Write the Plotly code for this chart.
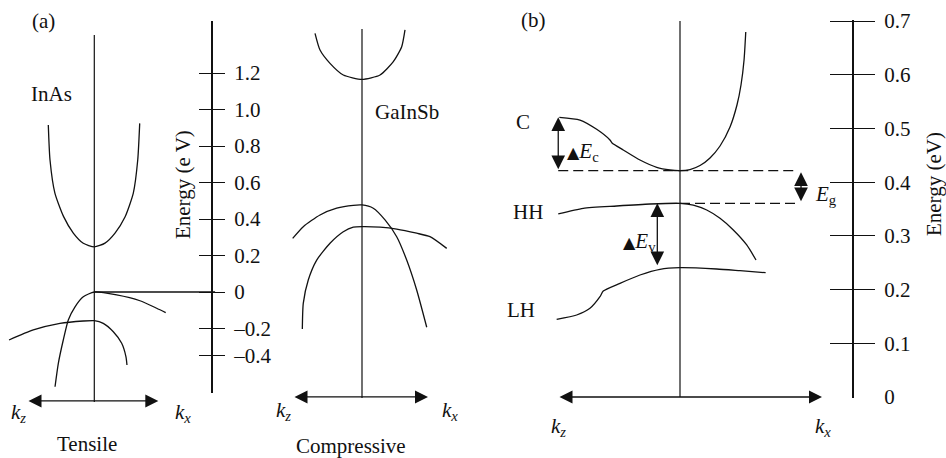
import plotly.graph_objects as go

W, H = 946, 458
FONT = '"Liberation Serif", "Times New Roman", Times, "DejaVu Serif", serif'
INK = "#111111"

# ---------------- Panel (a): InAs (tensile) ----------------
inas_cb_k = [-0.697, -0.671, -0.597, -0.465, -0.318, -0.167, 0.0, 0.162, 0.314, 0.465, 0.591, 0.658, 0.688]
inas_cb_E = [0.915, 0.723, 0.542, 0.413, 0.323, 0.267, 0.247, 0.268, 0.323, 0.411, 0.542, 0.723, 0.924]
inas_v1_k = [-0.595, -0.545, -0.470, -0.394, -0.292, -0.167, 0.0, 0.339, 0.692, 0.945, 1.082]
inas_v1_E = [-0.519, -0.391, -0.263, -0.153, -0.081, -0.026, 0.0, -0.016, -0.048, -0.089, -0.113]
inas_v2_k = [-1.292, -0.924, -0.520, -0.167, 0.0, 0.136, 0.288, 0.415, 0.480, 0.495]
inas_v2_E = [-0.263, -0.208, -0.172, -0.159, -0.157, -0.172, -0.218, -0.281, -0.355, -0.400]
inas_ref_k = [0.0, 1.83]          # valence-band-top reference line to the energy axis
inas_ref_E = [0.0, 0.0]
inas_kaxis_E = -0.597
inas_kaxis_k = [-1.02, 0.97]
inas_center_E = [-0.603, 1.408]

# ---------------- Panel (a): GaInSb (compressive) ----------------
gis_cb_k = [-0.696, -0.622, -0.474, -0.277, 0.0, 0.267, 0.464, 0.588, 0.637]
gis_cb_E = [1.4175, 1.326, 1.253, 1.189, 1.1655, 1.189, 1.262, 1.344, 1.436]
gis_v1_k = [-1.027, -0.870, -0.622, -0.375, -0.129, 0.0, 0.167, 0.341, 0.514, 0.662, 0.810, 0.959]
gis_v1_E = [0.294, 0.358, 0.422, 0.459, 0.475, 0.477, 0.459, 0.395, 0.303, 0.175, 0.011, -0.193]
gis_v2_k = [-0.884, -0.870, -0.796, -0.671, -0.474, -0.277, -0.129, 0.0, 0.267, 0.514, 0.810, 1.007, 1.255]
gis_v2_E = [-0.203, -0.062, 0.066, 0.175, 0.267, 0.330, 0.355, 0.358, 0.355, 0.345, 0.322, 0.303, 0.239]
gis_kaxis_E = -0.575
gis_kaxis_k = [-1.022, 0.978]
gis_center_E = [-0.581, 1.441]

# energy axis of panel (a)
a_tick_vals = [1.2, 1.0, 0.8, 0.6, 0.4, 0.2, 0.0, -0.2, -0.35]
a_tick_text = ["1.2", "1.0", "0.8", "0.6", "0.4", "0.2", "0", "\u20130.2", "\u20130.4"]

# ---------------- Panel (b) ----------------
c_k = [-0.989, -0.820, -0.683, -0.574, -0.557, -0.465, -0.328, -0.191, -0.082, 0.0,
       0.082, 0.164, 0.246, 0.328, 0.410, 0.467, 0.500, 0.525, 0.539]
c_E = [0.5209, 0.5158, 0.4985, 0.4786, 0.473, 0.460, 0.4413, 0.4277, 0.4227, 0.4214,
       0.4236, 0.4311, 0.4451, 0.4674, 0.5028, 0.5438, 0.5810, 0.6276, 0.6797]
hh_k = [-0.998, -0.793, -0.519, -0.246, 0.0, 0.109, 0.219, 0.328, 0.437, 0.547, 0.623]
hh_E = [0.3408, 0.3514, 0.3557, 0.3594, 0.3607, 0.3575, 0.3482, 0.3328, 0.311, 0.2831, 0.2551]
lh_k = [-1.011, -0.847, -0.738, -0.656, -0.629, -0.492, -0.328, -0.164, 0.0, 0.301, 0.492, 0.702]
lh_E = [0.1447, 0.1527, 0.1652, 0.1868, 0.1974, 0.2117, 0.2272, 0.2378, 0.2408, 0.2384, 0.2352, 0.2315]
ec_level = 0.4214      # conduction band minimum (dashed)
ev_level = 0.3607      # heavy-hole maximum (dashed)
c_edge = 0.5209        # C at the k_z edge
lh_top = 0.2426
dash_ec_k = [-0.998, 0.959]
dash_ev_k = [0.0, 0.959]
b_kaxis_k = [-1.0, 1.164]
b_center_E = [0.0, 0.7002]
dEc_k = -0.998
dEv_k = -0.186
dEg_k = 0.992

b_tick_vals = [0.0, 0.1, 0.2, 0.3, 0.4, 0.5, 0.6, 0.7]
b_tick_text = ["0", "0.1", "0.2", "0.3", "0.4", "0.5", "0.6", "0.7"]

# ---------------- layout geometry (pixels) ----------------
def xr(center_px, px_per_k):
    return [-center_px / px_per_k, (W - center_px) / px_per_k]

def yr(zero_px, px_per_E, top_px=0.0, bottom_px=H):
    return [(zero_px - bottom_px) / px_per_E, (zero_px - top_px) / px_per_E]

def ydom(top_px, bottom_px):
    return [(H - bottom_px) / H, (H - top_px) / H]

A_ZERO, A_SCALE = 292.0, 182.5
B_ZERO, B_SCALE = 397.0, 537.0

fig = go.Figure()

def curve(k, E, xa, ya, dash=None, width=1.3, smooth=True):
    fig.add_trace(go.Scatter(
        x=k, y=E, mode="lines", xaxis=xa, yaxis=ya, hoverinfo="skip", showlegend=False,
        line=dict(color=INK, width=width, dash=dash,
                  shape="spline" if smooth else "linear", smoothing=0.6 if smooth else 0)))

# panel (a) InAs
curve(inas_cb_k, inas_cb_E, "x", "y")
curve(inas_v1_k, inas_v1_E, "x", "y")
curve(inas_v2_k, inas_v2_E, "x", "y")
curve(inas_ref_k, inas_ref_E, "x", "y", smooth=False)
curve([0, 0], inas_center_E, "x", "y", smooth=False, width=1.2)
# panel (a) GaInSb
curve(gis_cb_k, gis_cb_E, "x2", "y")
curve(gis_v1_k, gis_v1_E, "x2", "y")
curve(gis_v2_k, gis_v2_E, "x2", "y")
curve([0, 0], gis_center_E, "x2", "y", smooth=False, width=1.2)
# panel (b)
curve(c_k, c_E, "x3", "y2")
curve(hh_k, hh_E, "x3", "y2")
curve(lh_k, lh_E, "x3", "y2")
curve([0, 0], b_center_E, "x3", "y2", smooth=False, width=1.2)
curve(dash_ec_k, [ec_level, ec_level], "x3", "y2", dash="10px,5px", smooth=False)
curve(dash_ev_k, [ev_level, ev_level], "x3", "y2", dash="10px,5px", smooth=False)
# carrier traces for the two energy-scale subplots
fig.add_trace(go.Scatter(x=[None], y=[None], xaxis="x4", yaxis="y3", showlegend=False, hoverinfo="skip"))
fig.add_trace(go.Scatter(x=[None], y=[None], xaxis="x5", yaxis="y4", showlegend=False, hoverinfo="skip"))

hidden = dict(visible=False, showgrid=False, zeroline=False, fixedrange=True)
tickfont = dict(family=FONT, size=21, color=INK)

fig.update_layout(
    width=W, height=H, margin=dict(l=0, r=0, t=0, b=0),
    template="none", paper_bgcolor="white", plot_bgcolor="rgba(0,0,0,0)",
    font=dict(family=FONT, size=21, color=INK),
    showlegend=False, hovermode=False,
    xaxis=dict(domain=[0, 1], range=xr(94.3, 66.0), anchor="y", **hidden),
    xaxis2=dict(domain=[0, 1], range=xr(362.0, 67.5), anchor="y", **hidden),
    xaxis3=dict(domain=[0, 1], range=xr(680.0, 122.0), anchor="y2", **hidden),
    yaxis=dict(domain=[0, 1], range=yr(A_ZERO, A_SCALE), anchor="x", **hidden),
    yaxis2=dict(domain=[0, 1], range=yr(B_ZERO, B_SCALE), anchor="x3", **hidden),
    # panel (a) energy scale: vertical line = zeroline of x4, crossing ticks = gridlines of y3
    xaxis4=dict(domain=[199 / W, 225 / W], range=[-1, 1], anchor="y3", showgrid=False,
                zeroline=True, zerolinecolor=INK, zerolinewidth=1.5, showticklabels=False,
                ticks="", showline=False, fixedrange=True),
    yaxis3=dict(domain=ydom(20.7, 393.3), range=yr(A_ZERO, A_SCALE, 20.7, 393.3), anchor="x4",
                side="right", tickmode="array", tickvals=a_tick_vals, ticktext=a_tick_text,
                showgrid=True, gridcolor=INK, gridwidth=1.3, zeroline=False, showline=False,
                ticks="outside", ticklen=4, tickcolor="rgba(0,0,0,0)", tickfont=tickfont,
                fixedrange=True),
    # panel (b) energy scale
    xaxis5=dict(domain=[830 / W, 875 / W], range=[-1, 1], anchor="y4", showgrid=False,
                zeroline=True, zerolinecolor=INK, zerolinewidth=1.5, showticklabels=False,
                ticks="", showline=False, fixedrange=True),
    yaxis4=dict(domain=ydom(20.0, 398.0), range=yr(B_ZERO, B_SCALE, 20.0, 398.0), anchor="x5",
                side="right", tickmode="array", tickvals=b_tick_vals, ticktext=b_tick_text,
                showgrid=True, gridcolor=INK, gridwidth=1.3, zeroline=False, showline=False,
                ticks="outside", ticklen=4, tickcolor="rgba(0,0,0,0)", tickfont=tickfont,
                fixedrange=True),
)

ann = []

def label(text, xa, ya, k, E, xanchor="center", angle=0, size=21):
    ann.append(dict(text=text, x=k, y=E, xref=xa, yref=ya, showarrow=False,
                    xanchor=xanchor, yanchor="middle", textangle=angle,
                    font=dict(family=FONT, size=size, color=INK)))

def arrow(xa, ya, k0, E0, k1, E1, size=2.0):
    ann.append(dict(text="", x=k1, y=E1, ax=k0, ay=E0, xref=xa, yref=ya, axref=xa, ayref=ya,
                    showarrow=True, arrowhead=2, startarrowhead=2, arrowside="end+start",
                    arrowsize=size, startarrowsize=size, arrowwidth=1.3, arrowcolor=INK))

KZ = "<i>k</i><sub><i>z</i></sub>"
KX = "<i>k</i><sub><i>x</i></sub>"
TRI = '<span style="font-family:DejaVu Sans;font-size:16px">\u25b2</span>'

# panel (a)
label("(a)", "x", "y", -0.777, 1.485)
label("InAs", "x", "y", -0.645, 1.085)
label("Tensile", "x", "y", -0.111, -0.833)
label(KZ, "x", "y", -1.292, -0.663, xanchor="left")
label(KX, "x", "y", 1.192, -0.663, xanchor="left")
label("Energy (e V)", "x", "y", 1.344, 0.586, angle=-90)
arrow("x", "y", inas_kaxis_k[0], inas_kaxis_E, inas_kaxis_k[1], inas_kaxis_E)
label("GaInSb", "x2", "y", 0.667, 0.986)
label("Compressive", "x2", "y", -0.156, -0.844)
label(KZ, "x2", "y", -1.304, -0.652, xanchor="left")
label(KX, "x2", "y", 1.156, -0.652, xanchor="left")
arrow("x2", "y", gis_kaxis_k[0], gis_kaxis_E, gis_kaxis_k[1], gis_kaxis_E)

# panel (b)
label("(b)", "x3", "y2", -1.197, 0.702)
label("C", "x3", "y2", -1.287, 0.512)
label("HH", "x3", "y2", -1.246, 0.3445)
label("LH", "x3", "y2", -1.303, 0.162)
label(TRI + "<i>E</i><sub>c</sub>", "x3", "y2", -0.943, 0.456, xanchor="left")
label(TRI + "<i>E</i><sub>v</sub>", "x3", "y2", -0.485, 0.2886, xanchor="left")
label("<i>E</i><sub>g</sub>", "x3", "y2", 1.087, 0.376, xanchor="left")
label(KZ, "x3", "y2", -1.071, -0.0559, xanchor="left")
label(KX, "x3", "y2", 1.093, -0.0559, xanchor="left")
label("Energy (eV)", "x3", "y2", 2.082, 0.3966, angle=-90)
arrow("x3", "y2", b_kaxis_k[0], 0.0, b_kaxis_k[1], 0.0)
arrow("x3", "y2", dEc_k, ec_level, dEc_k, c_edge, size=2.1)
arrow("x3", "y2", dEv_k, lh_top, dEv_k, ev_level, size=2.1)
arrow("x3", "y2", dEg_k, ev_level + 0.0011, dEg_k, ec_level - 0.003, size=2.1)

fig.update_layout(annotations=ann)
fig.write_html("out.html")
